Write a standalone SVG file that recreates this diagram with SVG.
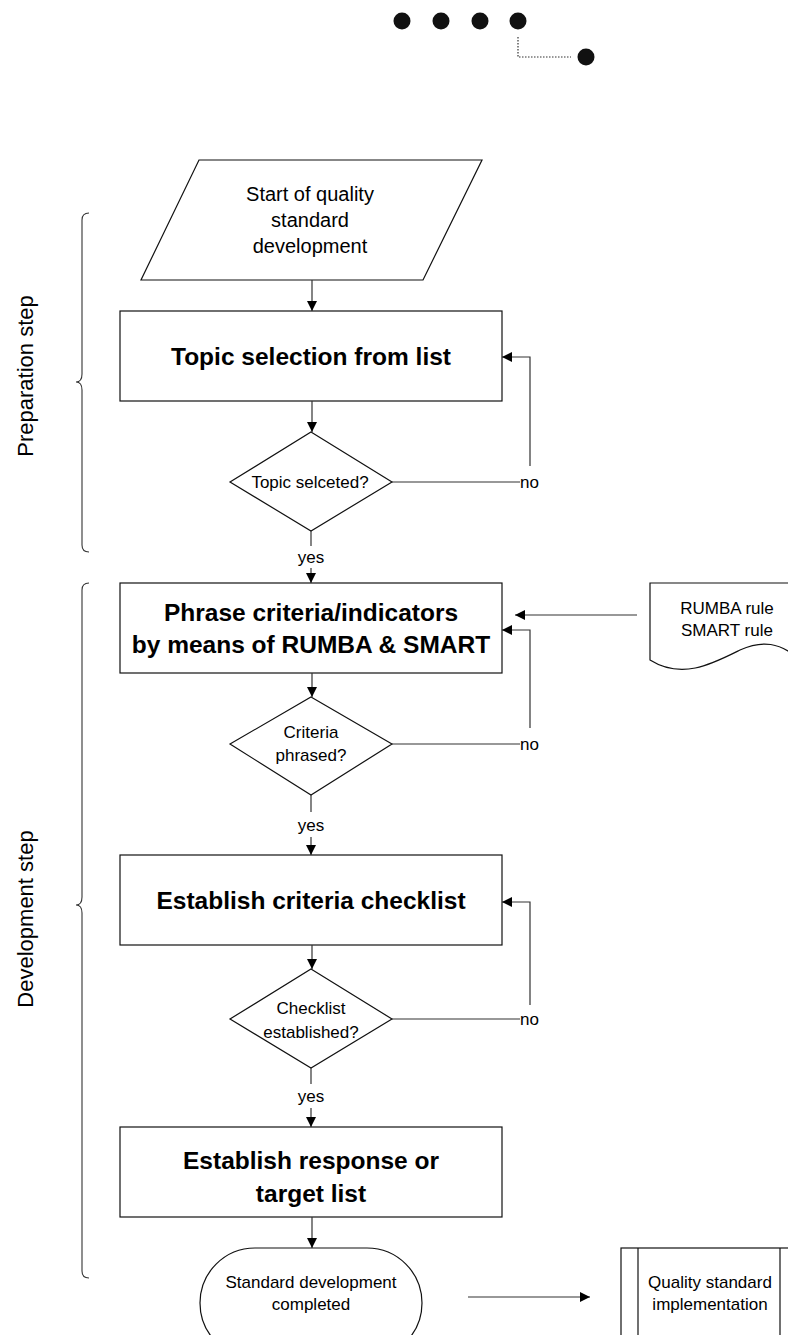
<svg xmlns="http://www.w3.org/2000/svg" width="788" height="1335" viewBox="0 0 788 1335">
  <style>
    .shape { fill: #fff; stroke: #111; stroke-width: 1.2; }
    .line { fill: none; stroke: #333; stroke-width: 1.2; }
    .brace { fill: none; stroke: #333; stroke-width: 1.1; }
    .t { font-family: "Liberation Sans", Arial, sans-serif; fill: #000; text-anchor: middle; }
    .big { font-size: 24.5px; font-weight: bold; }
    .mid { font-size: 20px; }
    .sm { font-size: 17px; }
    .side { font-size: 22px; }
    .lbl { text-anchor: start; }
  </style>
  <defs>
    <marker id="arrow" viewBox="0 0 10 10" refX="10" refY="5" markerWidth="10" markerHeight="10" markerUnits="userSpaceOnUse" orient="auto">
      <path d="M0,0 L10,5 L0,10 Z" fill="#000"/>
    </marker>
  </defs>

  <rect width="788" height="1335" fill="#fff"/>

  <!-- logo dots -->
  <g id="logo">
    <circle cx="402" cy="21" r="8.5" fill="#111"/>
    <circle cx="441" cy="21" r="8.5" fill="#111"/>
    <circle cx="480" cy="21" r="8.5" fill="#111"/>
    <circle cx="518" cy="21" r="8.5" fill="#111"/>
    <path d="M518,37 V57 H571" fill="none" stroke="#333" stroke-width="1.2" stroke-dasharray="1.5,1.5"/>
    <circle cx="586" cy="57" r="8.5" fill="#111"/>
  </g>

  <!-- side braces -->
  <g id="prep-brace">
    <path class="brace" d="M89,213 Q82,213 82,220 V374 Q82,382 76,382 Q82,382 82,390 V545 Q82,552 89,552"/>
    <text class="t side" transform="translate(33,376) rotate(-90)">Preparation step</text>
  </g>
  <g id="dev-brace">
    <path class="brace" d="M89,583 Q82,583 82,590 V897 Q82,905 76,905 Q82,905 82,913 V1271 Q82,1278 89,1278"/>
    <text class="t side" transform="translate(33,919) rotate(-90)">Development step</text>
  </g>

  <!-- nodes -->
  <g id="start">
    <polygon class="shape" points="199,160 482,160 423,280 141,280"/>
    <text class="t mid" x="310" y="201">Start of quality</text>
    <text class="t mid" x="310" y="227">standard</text>
    <text class="t mid" x="310" y="253">development</text>
  </g>
  <g id="topic-selection">
    <rect class="shape" x="120" y="311" width="382" height="90"/>
    <text class="t big" x="311" y="365">Topic selection from list</text>
  </g>
  <g id="topic-decision">
    <polygon class="shape" points="311,432 392,482 311,531 230,482"/>
    <text class="t sm" x="310" y="488">Topic selceted?</text>
  </g>
  <g id="phrase-criteria">
    <rect class="shape" x="120" y="583" width="382" height="90"/>
    <text class="t big" x="311" y="621">Phrase criteria/indicators</text>
    <text class="t big" x="311" y="653">by means of RUMBA &amp; SMART</text>
  </g>
  <g id="rules-doc">
    <path class="shape" d="M650,583 H800 V660 C780,642 762,640 740,650 C712,664 682,680 650,660 Z"/>
    <text class="t sm" x="727" y="614">RUMBA rule</text>
    <text class="t sm" x="727" y="636">SMART rule</text>
  </g>
  <g id="criteria-decision">
    <polygon class="shape" points="311,697 392,744 311,795 230,744"/>
    <text class="t sm" x="311" y="738">Criteria</text>
    <text class="t sm" x="311" y="761">phrased?</text>
  </g>
  <g id="checklist">
    <rect class="shape" x="120" y="855" width="382" height="90"/>
    <text class="t big" x="311" y="909">Establish criteria checklist</text>
  </g>
  <g id="checklist-decision">
    <polygon class="shape" points="311,969 392,1019 311,1068 230,1019"/>
    <text class="t sm" x="311" y="1014">Checklist</text>
    <text class="t sm" x="311" y="1038">established?</text>
  </g>
  <g id="response-list">
    <rect class="shape" x="120" y="1127" width="382" height="90"/>
    <text class="t big" x="311" y="1169">Establish response or</text>
    <text class="t big" x="311" y="1202">target list</text>
  </g>
  <g id="completed">
    <rect class="shape" x="200" y="1248" width="222" height="110" rx="55" ry="55"/>
    <text class="t sm" x="311" y="1288">Standard development</text>
    <text class="t sm" x="311" y="1310">completed</text>
  </g>
  <g id="implementation">
    <rect class="shape" x="621" y="1248" width="178" height="110"/>
    <line class="shape" x1="638" y1="1248" x2="638" y2="1358"/>
    <line class="shape" x1="780" y1="1248" x2="780" y2="1358"/>
    <text class="t sm" x="710" y="1288">Quality standard</text>
    <text class="t sm" x="710" y="1310">implementation</text>
  </g>

  <!-- connectors -->
  <g id="connectors">
    <line class="line" x1="312" y1="280" x2="312" y2="311" marker-end="url(#arrow)"/>
    <line class="line" x1="312" y1="401" x2="312" y2="432" marker-end="url(#arrow)"/>
    <line class="line" x1="392" y1="482" x2="520" y2="482"/>
    <polyline class="line" points="530,466 530,357 502,357" marker-end="url(#arrow)"/>
    <text class="t sm lbl" x="520" y="488">no</text>
    <line class="line" x1="311" y1="531" x2="311" y2="546"/>
    <text class="t sm" x="311" y="563">yes</text>
    <line class="line" x1="311" y1="568" x2="311" y2="583" marker-end="url(#arrow)"/>

    <line class="line" x1="637" y1="615" x2="515" y2="615" marker-end="url(#arrow)"/>

    <line class="line" x1="312" y1="673" x2="312" y2="697" marker-end="url(#arrow)"/>
    <line class="line" x1="392" y1="744" x2="520" y2="744"/>
    <polyline class="line" points="530,728 530,630 502,630" marker-end="url(#arrow)"/>
    <text class="t sm lbl" x="520" y="750">no</text>
    <line class="line" x1="311" y1="795" x2="311" y2="812"/>
    <text class="t sm" x="311" y="831">yes</text>
    <line class="line" x1="311" y1="837" x2="311" y2="855" marker-end="url(#arrow)"/>

    <line class="line" x1="312" y1="945" x2="312" y2="969" marker-end="url(#arrow)"/>
    <line class="line" x1="392" y1="1019" x2="520" y2="1019"/>
    <polyline class="line" points="530,1005 530,902 502,902" marker-end="url(#arrow)"/>
    <text class="t sm lbl" x="520" y="1025">no</text>
    <line class="line" x1="311" y1="1068" x2="311" y2="1084"/>
    <text class="t sm" x="311" y="1102">yes</text>
    <line class="line" x1="311" y1="1108" x2="311" y2="1127" marker-end="url(#arrow)"/>

    <line class="line" x1="312" y1="1217" x2="312" y2="1248" marker-end="url(#arrow)"/>
    <line class="line" x1="468" y1="1297" x2="590" y2="1297" marker-end="url(#arrow)"/>
  </g>
</svg>
